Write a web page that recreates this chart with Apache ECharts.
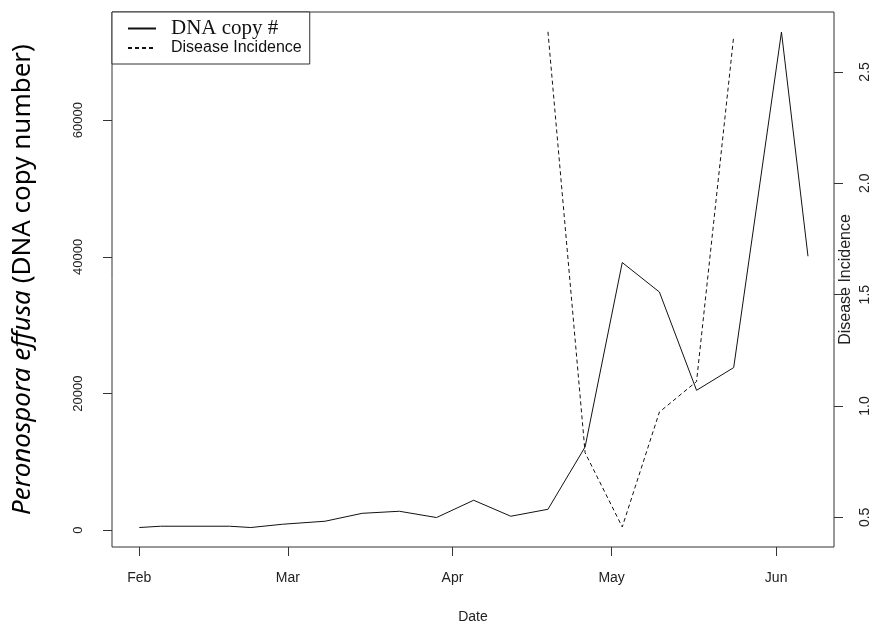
<!DOCTYPE html>
<html>
  <head>
    <meta charset="utf-8" />
    <title>Peronospora effusa DNA copy number and disease incidence</title>
    <script src="https://cdn.jsdelivr.net/npm/echarts@6/dist/echarts.min.js"></script>
    <style>
      body {
        margin: 0;
        background: #fff;
      }
      #main {
        width: 873px;
        height: 623px;
      }
    </style>
  </head>
  <body>
    <div id="main"></div>
    <script type="text/javascript">
      // DNA copy number (left axis)
      var dnaDates = [
        "2015-02-01", "2015-02-05", "2015-02-18", "2015-02-22", "2015-02-28",
        "2015-03-08", "2015-03-15", "2015-03-22", "2015-03-29", "2015-04-05",
        "2015-04-12", "2015-04-19", "2015-04-26", "2015-05-03", "2015-05-10",
        "2015-05-17", "2015-05-24", "2015-06-02", "2015-06-07",
      ];
      var dnaCopies = [
        400, 590, 590, 400, 880, 1320, 2480, 2780, 1860, 4390,
        2050, 3070, 12190, 39170, 34860, 20480, 23800, 72900, 40090,
      ];

      // disease incidence (right axis)
      var diseaseDates = [
        "2015-04-19", "2015-04-26", "2015-05-03", "2015-05-10", "2015-05-17", "2015-05-24",
      ];
      var diseaseIncidence = [2.68, 0.79, 0.457, 0.973, 1.11, 2.66];

      // tick labels
      var monthLabels = ["Jan", "Feb", "Mar", "Apr", "May", "Jun", "Jul"];
      var leftTicks = [0, 20000, 40000, 60000];
      var rightTicks = [0.5, 1.0, 1.5, 2.0, 2.5];

      function toTime(s) {
        var p = s.split("-");
        return new Date(+p[0], +p[1] - 1, +p[2]).getTime();
      }

      var DAY = 86400000;
      var feb1 = toTime("2015-02-01");

      var myChart = echarts.init(document.getElementById("main"));

      var option = {
        animation: false,
        grid: {
          left: 112,
          right: 39,
          top: 12,
          bottom: 76,
          outerBoundsMode: "none",
          containLabel: false,
          show: true,
          borderColor: "#333",
          borderWidth: 1,
          backgroundColor: "transparent",
        },
        legend: {
          orient: "vertical",
          left: 112,
          top: 12,
          padding: [6, 8, 8, 15],
          itemGap: 1,
          itemWidth: 28,
          itemHeight: 14,
          borderColor: "#333",
          borderWidth: 1,
          backgroundColor: "#fff",
          itemStyle: { opacity: 0 },
          data: ["DNA copy #", "Disease Incidence"],
          formatter: function (name) {
            return name === "DNA copy #" ? "{a|" + name + "}" : "{b|" + name + "}";
          },
          textStyle: {
            rich: {
              a: {
                fontFamily: "Liberation Serif",
                fontSize: 21,
                color: "#111",
                lineHeight: 18,
                padding: [0, 0, 0, 10],
              },
              b: {
                fontFamily: "Liberation Sans",
                fontSize: 16,
                color: "#111",
                lineHeight: 18,
                padding: [0, 0, 0, 10],
              },
            },
          },
        },
        xAxis: {
          type: "time",
          min: feb1 - 5.15 * DAY,
          max: feb1 + 130.9 * DAY,
          splitNumber: 5,
          name: "Date",
          nameLocation: "middle",
          nameGap: 63,
          nameMoveOverlap: false,
          nameTextStyle: { fontFamily: "Liberation Sans", fontSize: 14, color: "#222" },
          axisLine: { show: false, onZero: false },
          splitLine: { show: false },
          axisTick: {
            show: true,
            inside: false,
            length: 9,
            lineStyle: { color: "#333" },
          },
          axisLabel: {
            margin: 24,
            fontFamily: "Liberation Sans",
            fontSize: 14,
            color: "#222",
            formatter: function (v) {
              var d = new Date(v);
              return d.getDate() === 1 ? monthLabels[d.getMonth()] : "";
            },
          },
        },
        yAxis: [
          {
            type: "value",
            position: "left",
            min: -2450,
            max: 75830,
            name: "{i|Peronospora effusa} (DNA copy number)",
            nameLocation: "middle",
            nameRotate: 90,
            nameGap: 76,
            nameMoveOverlap: false,
            nameTextStyle: {
              fontFamily: "Noto Sans",
              fontSize: 26,
              color: "#000",
              rich: {
                i: { fontFamily: "Noto Sans", fontStyle: "italic", fontSize: 26, color: "#000" },
              },
            },
            axisLine: { show: false, onZero: false },
            splitLine: { show: false },
            axisTick: {
              show: true,
              length: 9,
              lineStyle: { color: "#333" },
              customValues: leftTicks,
            },
            axisLabel: {
              customValues: leftTicks,
              rotate: 90,
              margin: 27,
              fontFamily: "Liberation Sans",
              fontSize: 13,
              color: "#222",
              formatter: function (v) {
                return String(v);
              },
            },
          },
          {
            type: "value",
            position: "right",
            min: 0.367,
            max: 2.769,
            name: "Disease Incidence",
            nameLocation: "middle",
            nameRotate: 90,
            nameGap: 4,
            nameMoveOverlap: false,
            nameTextStyle: { fontFamily: "Liberation Sans", fontSize: 16, color: "#222" },
            axisLine: { show: false, onZero: false },
            splitLine: { show: false },
            axisTick: {
              show: true,
              length: 9,
              lineStyle: { color: "#333" },
              customValues: rightTicks,
            },
            axisLabel: {
              customValues: rightTicks,
              rotate: 90,
              margin: 24,
              fontFamily: "Liberation Sans",
              fontSize: 14,
              color: "#222",
              formatter: function (v) {
                return v.toFixed(1);
              },
            },
          },
        ],
        series: [
          {
            name: "DNA copy #",
            type: "line",
            yAxisIndex: 0,
            symbol: "none",
            lineStyle: { color: "#111", width: 1, type: "solid" },
            itemStyle: { color: "#111" },
            data: dnaDates.map(function (d, i) {
              return [toTime(d), dnaCopies[i]];
            }),
          },
          {
            name: "Disease Incidence",
            type: "line",
            yAxisIndex: 1,
            symbol: "none",
            lineStyle: { color: "#111", width: 1, type: [4, 3] },
            itemStyle: { color: "#111" },
            data: diseaseDates.map(function (d, i) {
              return [toTime(d), diseaseIncidence[i]];
            }),
          },
        ],
      };

      myChart.setOption(option);
    </script>
  </body>
</html>
